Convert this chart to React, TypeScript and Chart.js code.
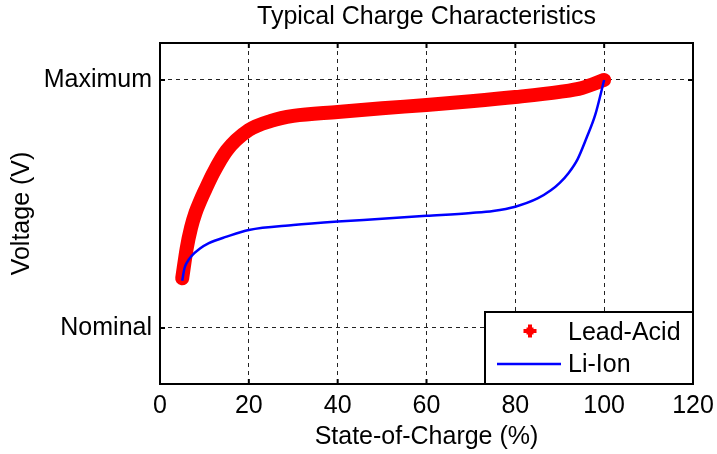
import React, { useEffect, useRef } from "react";
import { Chart, registerables } from "chart.js";

Chart.register(...registerables);

const chartTitle = "Typical Charge Characteristics";
const xAxisTitle = "State-of-Charge (%)";
const yAxisTitle = "Voltage (V)";

const seriesNames = ["Lead-Acid", "Li-Ion"];

const leadAcidX = [5, 6, 7, 8, 9, 10, 12, 15, 20, 25, 30, 40, 50, 60, 70, 80, 90, 95, 100];
const leadAcidY = [0.2, 0.32, 0.405, 0.465, 0.51, 0.55, 0.625, 0.715, 0.798, 0.835, 0.855, 0.871, 0.886, 0.899, 0.914, 0.931, 0.952, 0.968, 1.0];

const liIonX = [5, 5.5, 6, 7, 9, 11, 15, 20, 30, 40, 50, 60, 70, 75, 80, 85, 88, 90, 92, 94, 96, 98, 100];
const liIonY = [0.19, 0.24, 0.262, 0.288, 0.32, 0.342, 0.368, 0.395, 0.415, 0.429, 0.44, 0.452, 0.464, 0.472, 0.489, 0.522, 0.555, 0.585, 0.625, 0.68, 0.765, 0.86, 1.0];

const yTickValues = [0, 1];
const yTickLabels = ["Nominal", "Maximum"];

const xMin = 0;
const xMax = 120;
const xStep = 20;
const yMin = -0.226;
const yMax = 1.149;

const FONT = "'Liberation Sans', Arial, Helvetica, sans-serif";

const framePlugin = {
  id: "matlabFrame",
  afterDatasetsDraw(chart: any) {
    const { ctx, chartArea, scales } = chart;
    const { left, right, top, bottom } = chartArea;
    ctx.save();
    ctx.strokeStyle = "#000";
    ctx.lineWidth = 2;
    ctx.setLineDash([]);
    const tl = 5;
    ctx.beginPath();
    scales.x.ticks.forEach((t: any) => {
      const px = scales.x.getPixelForValue(t.value);
      ctx.moveTo(px, bottom);
      ctx.lineTo(px, bottom - tl);
      ctx.moveTo(px, top);
      ctx.lineTo(px, top + tl);
    });
    scales.y.ticks.forEach((t: any) => {
      const py = scales.y.getPixelForValue(t.value);
      ctx.moveTo(left, py);
      ctx.lineTo(left + tl, py);
      ctx.moveTo(right, py);
      ctx.lineTo(right - tl, py);
    });
    ctx.stroke();
    ctx.strokeRect(left, top, right - left, bottom - top);

    // legend
    const w = 208;
    const h = 72;
    const lx = right - w;
    const ly = bottom - h;
    ctx.fillStyle = "#fff";
    ctx.fillRect(lx, ly, w, h);
    ctx.strokeRect(lx, ly, w, h);
    ctx.font = `25px ${FONT}`;
    ctx.textBaseline = "middle";
    ctx.textAlign = "left";
    const ds = chart.data.datasets;
    const mx = lx + 45;
    const my = ly + 19;
    ctx.fillStyle = ds[0].borderColor;
    ctx.fillRect(mx - 6.5, my - 2, 13, 4);
    ctx.fillRect(mx - 2, my - 6.5, 4, 13);
    ctx.fillRect(mx - 3.5, my - 3.5, 7, 7);
    ctx.fillStyle = "#000";
    ctx.fillText(ds[0].label, lx + 83, ly + 21);
    ctx.strokeStyle = ds[1].borderColor;
    ctx.lineWidth = 2.5;
    ctx.beginPath();
    ctx.moveTo(lx + 12, ly + 52);
    ctx.lineTo(lx + 76, ly + 52);
    ctx.stroke();
    ctx.fillStyle = "#000";
    ctx.fillText(ds[1].label, lx + 83, ly + 53);
    ctx.restore();
  },
};

export default function App() {
  const ref = useRef<HTMLCanvasElement | null>(null);

  useEffect(() => {
    if (!ref.current) return;
    const chart = new Chart(ref.current, {
      type: "line",
      data: {
        datasets: [
          {
            label: seriesNames[0],
            data: leadAcidX.map((x, i) => ({ x, y: leadAcidY[i] })),
            borderColor: "#ff0000",
            backgroundColor: "#ff0000",
            borderWidth: 14,
            borderCapStyle: "round",
            borderJoinStyle: "round",
            pointRadius: 0,
            cubicInterpolationMode: "monotone",
            fill: false,
            order: 1,
          },
          {
            label: seriesNames[1],
            data: liIonX.map((x, i) => ({ x, y: liIonY[i] })),
            borderColor: "#0000ff",
            backgroundColor: "#0000ff",
            borderWidth: 2.5,
            pointRadius: 0,
            cubicInterpolationMode: "monotone",
            fill: false,
            order: 0,
          },
        ],
      },
      options: {
        animation: false,
        responsive: false,
        events: [],
        layout: { padding: { left: 0, right: 24, top: 0, bottom: 0 } },
        plugins: {
          legend: { display: false },
          tooltip: { enabled: false },
          title: {
            display: true,
            fullSize: false,
            text: chartTitle,
            color: "#000",
            font: { family: FONT, size: 25, weight: "normal" },
            padding: { top: 2, bottom: 11 },
          },
        },
        scales: {
          x: {
            type: "linear",
            min: xMin,
            max: xMax,
            ticks: {
              stepSize: xStep,
              color: "#000",
              font: { family: FONT, size: 25 },
              padding: 7,
              maxRotation: 0,
            },
            grid: { color: "#222", lineWidth: 1, drawTicks: false },
            border: { display: false, dash: [4, 4] },
            title: {
              display: true,
              text: xAxisTitle,
              color: "#000",
              font: { family: FONT, size: 25 },
              padding: { top: 0, bottom: 2 },
            },
            afterFit(scale: any) {
              scale.height = 70;
              scale.paddingRight = 0;
              scale.paddingLeft = 0;
            },
          },
          y: {
            type: "linear",
            min: yMin,
            max: yMax,
            afterBuildTicks(scale: any) {
              scale.ticks = yTickValues.map((v) => ({ value: v }));
            },
            ticks: {
              color: "#000",
              font: { family: FONT, size: 25 },
              padding: 8,
              callback: (v: any) => {
                const i = yTickValues.indexOf(Number(v));
                return i >= 0 ? yTickLabels[i] : "";
              },
            },
            grid: { color: "#222", lineWidth: 1, drawTicks: false },
            border: { display: false, dash: [4, 4] },
            title: {
              display: true,
              text: yAxisTitle,
              color: "#000",
              font: { family: FONT, size: 25 },
              padding: { top: 7, bottom: 0 },
            },
            afterFit(scale: any) {
              scale.width = 160;
              scale.paddingTop = 0;
              scale.paddingBottom = 0;
            },
          },
        },
      },
      plugins: [framePlugin],
    } as any);
    return () => chart.destroy();
  }, []);

  return (
    <div style={{ position: "absolute", left: 0, top: 0, width: 717, height: 454, background: "#fff" }}>
      <canvas ref={ref} width={717} height={454} style={{ display: "block" }} />
    </div>
  );
}
